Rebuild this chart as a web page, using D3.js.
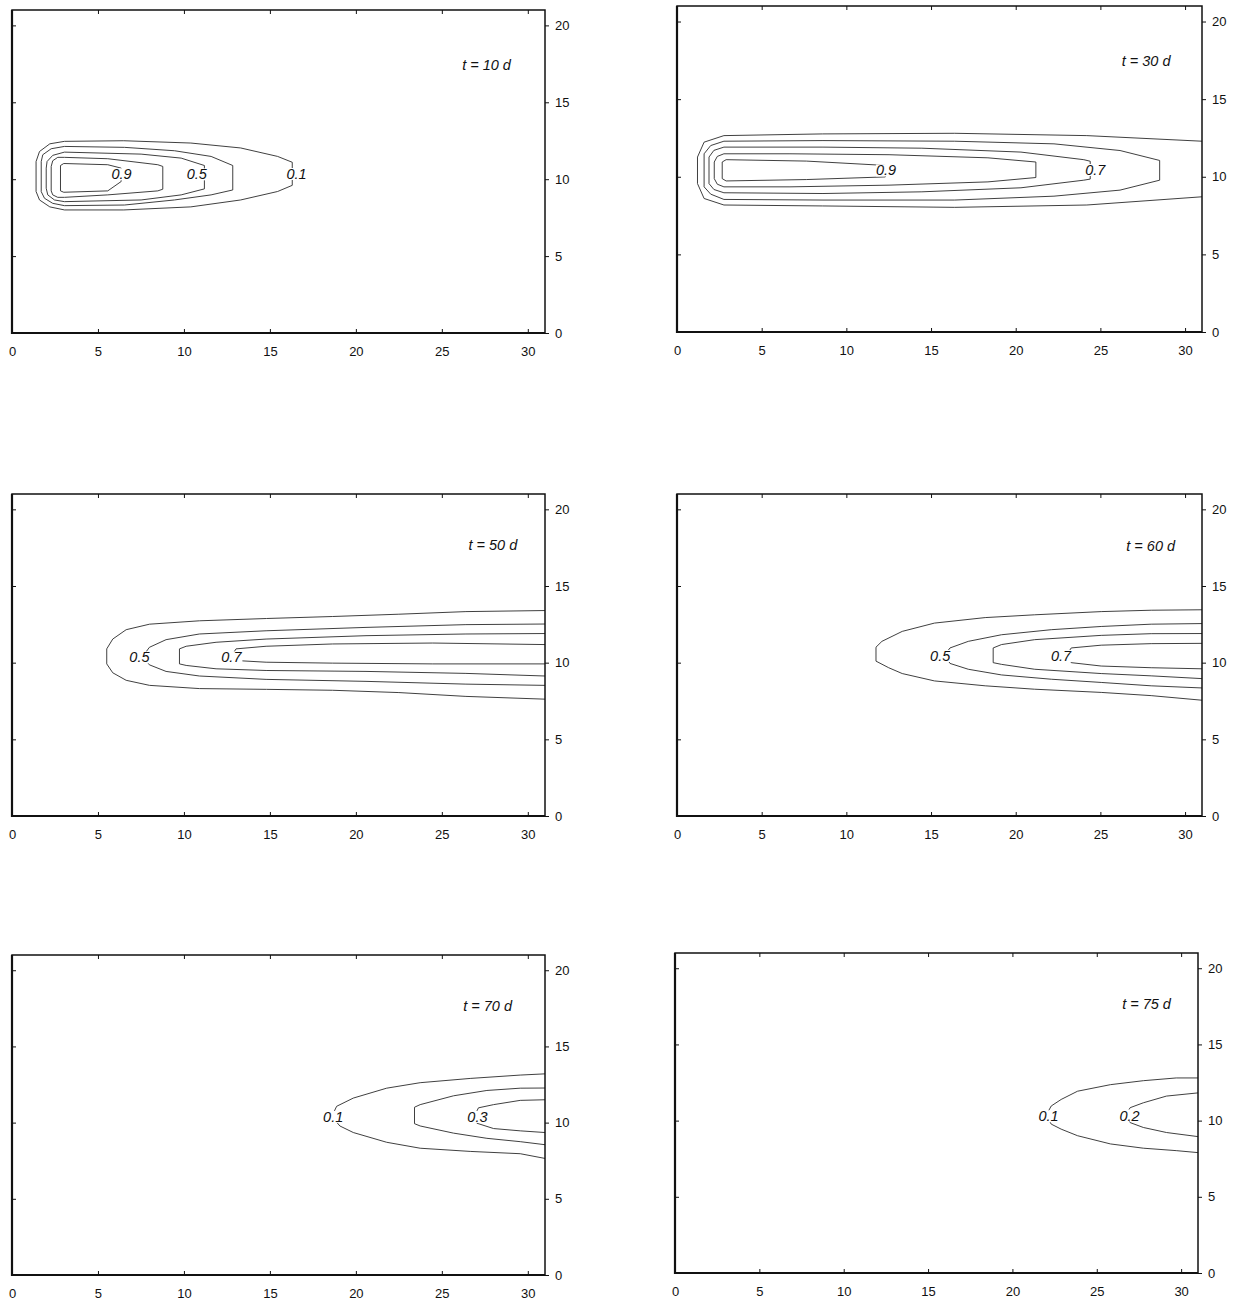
<!DOCTYPE html>
<html>
<head>
<meta charset="utf-8">
<script src="https://cdn.jsdelivr.net/npm/d3@7"></script>
<style>
body { margin: 0; background: #fff; }
svg text { font-family: Arial, "Liberation Sans", sans-serif; }
</style>
</head>
<body>
<svg id="chart" width="1243" height="1302"></svg>
<script>
// time of each snapshot (days)
const days = [10, 30, 50, 60, 70, 75];
const xTicks = [0, 5, 10, 15, 20, 25, 30];
const yTicks = [0, 5, 10, 15, 20];
const xMax = 31, yMax = 21;

// contour lines, points are [x, y] in grid units
// closed = the line closes on itself inside the frame, at = where its label sits
const lines10 = [
  { level: '0.1', at: [16.55, 10.35], closed: true, pts: [[16.3, 11.1], [15.45, 11.48], [13.3, 12.03], [10.4, 12.35], [6.5, 12.5], [3.05, 12.46], [2.2, 12.3], [1.6, 11.8], [1.4, 11.15], [1.4, 9.2], [1.6, 8.65], [2.2, 8.2], [3.05, 8.0], [6.5, 8.0], [10.4, 8.2], [13.3, 8.65], [15.45, 9.2], [16.3, 9.6]] },
  { level: '0.3', at: null, closed: true, pts: [[12.84, 10.89], [11.58, 11.48], [9.45, 11.85], [6.54, 12.07], [3.05, 12.13], [2.28, 11.98], [1.79, 11.59], [1.7, 11.15], [1.7, 9.19], [1.89, 8.76], [2.37, 8.43], [3.05, 8.28], [6.54, 8.32], [9.45, 8.65], [11.58, 8.98], [12.84, 9.3]] },
  { level: '0.5', at: [10.75, 10.33], closed: true, pts: [[11.19, 10.89], [9.84, 11.37], [7.51, 11.63], [3.05, 11.76], [2.37, 11.55], [2.04, 11.15], [1.99, 10.72], [1.99, 9.41], [2.08, 8.98], [2.47, 8.65], [3.05, 8.54], [7.51, 8.65], [9.84, 8.98], [11.19, 9.37]] },
  { level: '0.7', at: null, closed: true, pts: [[8.77, 10.83], [8.48, 10.94], [5.57, 11.33], [3.05, 11.42], [2.66, 11.42], [2.37, 11.2], [2.28, 10.83], [2.28, 9.24], [2.37, 8.98], [2.66, 8.82], [3.05, 8.82], [5.57, 8.98], [8.48, 9.24], [8.77, 9.35]] },
  { level: '0.9', at: [6.37, 10.33], closed: true, pts: [[6.35, 10.72], [5.57, 10.94], [3.01, 11.02], [2.82, 10.89], [2.82, 9.24], [3.01, 9.15], [5.57, 9.24], [6.35, 9.85]] }
];
const lines30 = [
  { level: '0.5', at: null, closed: false, pts: [[31, 12.29], [24.2, 12.65], [16.4, 12.8], [8.6, 12.76], [2.77, 12.65], [1.6, 12.23], [1.21, 11.27], [1.21, 9.56], [1.6, 8.6], [2.77, 8.18], [8.6, 8.12], [16.4, 8.03], [24.2, 8.18], [31, 8.71]] },
  { level: '0.6', at: null, closed: true, pts: [[28.5, 11.05], [26.16, 11.69], [22.26, 12.12], [16.4, 12.29], [8.62, 12.33], [2.77, 12.29], [1.99, 12.01], [1.6, 11.48], [1.6, 9.35], [1.99, 8.88], [2.77, 8.54], [8.62, 8.5], [16.4, 8.5], [22.26, 8.75], [26.16, 9.14], [28.5, 9.78]] },
  { level: '0.7', at: [24.7, 10.45], closed: true, pts: [[24.4, 11.0], [24.02, 11.1], [20.31, 11.59], [14.46, 11.84], [8.62, 11.91], [2.77, 11.91], [2.18, 11.7], [1.89, 11.27], [1.89, 9.56], [2.18, 9.18], [2.77, 8.97], [8.62, 8.92], [14.46, 9.03], [20.31, 9.29], [24.02, 9.78], [24.4, 9.85]] },
  { level: '0.8', at: null, closed: true, pts: [[21.19, 10.95], [18.36, 11.22], [12.52, 11.42], [6.67, 11.48], [2.77, 11.48], [2.38, 11.31], [2.2, 10.95], [2.2, 9.88], [2.38, 9.52], [2.77, 9.35], [6.67, 9.35], [12.52, 9.46], [18.36, 9.67], [21.19, 9.95]] },
  { level: '0.9', at: [12.34, 10.42], closed: true, pts: [[12.3, 10.73], [7.64, 11.01], [2.9, 11.1], [2.67, 10.95], [2.67, 9.88], [2.9, 9.73], [7.64, 9.82], [12.3, 9.99]] }
];
const lines50 = [
  { level: '0.4', at: null, closed: false, pts: [[31, 13.4], [26.4, 13.33], [22.5, 13.16], [18.65, 13.01], [14.8, 12.88], [10.9, 12.73], [8.0, 12.51], [6.64, 12.15], [5.86, 11.54], [5.51, 10.9], [5.51, 9.92], [5.86, 9.34], [6.64, 8.85], [8.0, 8.52], [10.9, 8.31], [14.8, 8.26], [18.65, 8.2], [22.5, 8.05], [26.4, 7.8], [31, 7.62]] },
  { level: '0.5', at: [7.41, 10.36], closed: false, pts: [[31, 12.52], [26.4, 12.48], [20.59, 12.3], [14.78, 12.08], [10.9, 11.87], [8.96, 11.5], [7.99, 11.0], [7.6, 10.4], [7.99, 9.86], [8.96, 9.43], [10.9, 9.13], [14.78, 8.91], [20.59, 8.78], [26.4, 8.6], [31, 8.52]] },
  { level: '0.6', at: null, closed: false, pts: [[31, 11.9], [26.4, 11.87], [20.59, 11.76], [14.78, 11.54], [11.87, 11.33], [10.13, 11.07], [9.74, 10.9], [9.74, 9.92], [10.13, 9.82], [11.87, 9.6], [14.78, 9.49], [20.59, 9.43], [26.4, 9.3], [31, 9.13]] },
  { level: '0.7', at: [12.76, 10.36], closed: false, pts: [[31, 11.18], [24.47, 11.28], [18.65, 11.22], [14.78, 11.07], [13.03, 10.9], [12.8, 10.5], [13.03, 10.14], [14.78, 10.03], [18.65, 9.97], [24.47, 9.92], [31, 9.92]] }
];
const lines60 = [
  { level: '0.4', at: null, closed: false, pts: [[31, 13.45], [28, 13.42], [25.05, 13.33], [21.1, 13.12], [18.2, 12.94], [15.2, 12.58], [13.3, 12.04], [12.1, 11.39], [11.75, 11.01], [11.75, 10.1], [12.5, 9.67], [13.3, 9.29], [15.2, 8.81], [18.2, 8.49], [21.1, 8.27], [25.05, 8.06], [28, 7.85], [31, 7.55]] },
  { level: '0.5', at: [15.54, 10.45], closed: false, pts: [[31, 12.55], [28, 12.51], [25.05, 12.36], [22.1, 12.15], [19.16, 11.82], [17.2, 11.39], [16.12, 10.96], [15.8, 10.5], [16.12, 9.95], [17.2, 9.57], [19.16, 9.2], [22.1, 8.92], [25.05, 8.71], [28, 8.49], [31, 8.35]] },
  { level: '0.6', at: null, closed: false, pts: [[31, 11.9], [28, 11.89], [25.05, 11.78], [21.12, 11.5], [19.16, 11.18], [18.67, 10.96], [18.67, 10.0], [19.16, 9.89], [21.12, 9.57], [25.05, 9.29], [28, 9.14], [31, 8.96]] },
  { level: '0.7', at: [22.68, 10.45], closed: false, pts: [[31, 11.26], [28, 11.24], [25.05, 11.14], [23.28, 10.96], [23.0, 10.5], [23.28, 10.0], [25.05, 9.78], [28, 9.67], [31, 9.6]] }
];
const lines70 = [
  { level: '0.1', at: [18.68, 10.39], closed: false, pts: [[31, 13.2], [29.56, 13.12], [26.65, 12.9], [23.74, 12.62], [21.79, 12.26], [19.85, 11.61], [18.88, 11.07], [18.6, 10.4], [19.07, 9.78], [19.85, 9.35], [21.79, 8.71], [23.74, 8.32], [26.65, 8.11], [29.56, 7.96], [31, 7.65]] },
  { level: '0.2', at: null, closed: false, pts: [[31, 12.27], [29.56, 12.26], [27.62, 12.11], [25.68, 11.76], [23.74, 11.18], [23.41, 11.01], [23.41, 9.93], [23.74, 9.78], [25.68, 9.31], [27.62, 8.97], [29.56, 8.75], [31, 8.55]] },
  { level: '0.3', at: [27.07, 10.39], closed: false, pts: [[31, 11.5], [29.56, 11.46], [28.01, 11.18], [27.13, 10.97], [26.9, 10.45], [27.04, 9.96], [28.01, 9.61], [29.56, 9.46], [31, 9.35]] }
];
const lines75 = [
  { level: '0.1', at: [22.14, 10.3], closed: false, pts: [[31, 12.8], [29.71, 12.8], [27.76, 12.62], [25.81, 12.36], [23.86, 11.93], [22.89, 11.39], [22.3, 10.96], [22.0, 10.35], [22.3, 9.77], [22.89, 9.44], [23.86, 9.01], [25.81, 8.47], [27.76, 8.19], [29.71, 8.03], [31, 7.9]] },
  { level: '0.2', at: [26.94, 10.35], closed: false, pts: [[31, 11.82], [29.13, 11.61], [27.76, 11.17], [26.98, 10.85], [26.7, 10.35], [26.98, 9.87], [27.76, 9.55], [29.13, 9.22], [31, 8.95]] }
];
const panelLines = [lines10, lines30, lines50, lines60, lines70, lines75];
// where the "t = .. d" stamp sits, grid units
const stampAt = [[27.6, 17.45], [27.7, 17.5], [27.97, 17.67], [27.97, 17.6], [27.66, 17.68], [27.95, 17.66]];

// frame of each panel on the page: left, top, right, bottom
const frames = [
  [12, 10, 545, 333], [677, 6, 1202, 332],
  [12, 494, 545, 816], [677, 494, 1202, 816],
  [12, 955, 545, 1275], [675, 953, 1198, 1273]
];

const svg = d3.select('#chart');

days.forEach((day, i) => {
  const [l, t, r, b] = frames[i];
  const x = d3.scaleLinear().domain([0, xMax]).range([l, r]);
  const y = d3.scaleLinear().domain([0, yMax]).range([b, t]);
  const g = svg.append('g');

  g.append('clipPath').attr('id', 'clip' + i)
    .append('rect').attr('x', l).attr('y', t).attr('width', r - l).attr('height', b - t);

  const line = d3.line().x(d => x(d[0])).y(d => y(d[1]));
  const closedLine = d3.line().x(d => x(d[0])).y(d => y(d[1])).curve(d3.curveLinearClosed);

  g.append('g').attr('clip-path', 'url(#clip' + i + ')')
    .selectAll('path')
    .data(panelLines[i])
    .enter()
    .append('path')
    .attr('d', d => d.closed ? closedLine(d.pts) : line(d.pts))
    .attr('fill', 'none')
    .attr('stroke', '#2a2a2a')
    .attr('stroke-width', 0.9);

  // contour labels on a white patch that cuts the line
  const lab = g.append('g')
    .selectAll('g')
    .data(panelLines[i].filter(d => d.at))
    .enter()
    .append('g');
  lab.append('rect').attr('fill', '#fff');
  lab.append('text')
    .attr('x', d => x(d.at[0]))
    .attr('y', d => y(d.at[1]))
    .attr('dy', '0.36em')
    .attr('text-anchor', 'middle')
    .attr('font-size', 14.5)
    .attr('font-style', 'italic')
    .attr('fill', '#111')
    .text(d => d.level);
  lab.each(function () {
    const bb = d3.select(this).select('text').node().getBBox();
    d3.select(this).select('rect')
      .attr('x', bb.x).attr('y', bb.y + 2)
      .attr('width', bb.width).attr('height', bb.height - 4);
  });

  g.append('text')
    .attr('x', x(stampAt[i][0]))
    .attr('y', y(stampAt[i][1]))
    .attr('dy', '0.36em')
    .attr('text-anchor', 'middle')
    .attr('font-size', 14.5)
    .attr('font-style', 'italic')
    .attr('fill', '#111')
    .text('t = ' + day + ' d');

  // axes: labels below and on the right, small ticks on every side
  const axB = g.append('g').attr('transform', `translate(0,${b})`)
    .call(d3.axisBottom(x).tickValues(xTicks).tickSize(-4).tickPadding(14));
  const axT = g.append('g').attr('transform', `translate(0,${t})`)
    .call(d3.axisTop(x).tickValues(xTicks.slice(1)).tickSize(-4).tickFormat(''));
  const axL = g.append('g').attr('transform', `translate(${l},0)`)
    .call(d3.axisLeft(y).tickValues(yTicks.slice(1)).tickSize(-4).tickFormat(''));
  const axR = g.append('g').attr('transform', `translate(${r},0)`)
    .call(d3.axisRight(y).tickValues(yTicks).tickSize(4).tickPadding(6));
  [axB, axT, axL, axR].forEach(a => {
    a.select('.domain').remove();
    a.selectAll('text').attr('font-size', 13).attr('font-family', 'Arial, "Liberation Sans", sans-serif').attr('fill', '#111');
    a.selectAll('line').attr('stroke', '#111');
  });

  g.append('rect')
    .attr('x', l).attr('y', t).attr('width', r - l).attr('height', b - t)
    .attr('fill', 'none').attr('stroke', '#111').attr('stroke-width', 1.5);
  g.append('path')
    .attr('d', `M${l},${t}V${b}H${r}`)
    .attr('fill', 'none').attr('stroke', '#111').attr('stroke-width', 2.2);
});
</script>
</body>
</html>
